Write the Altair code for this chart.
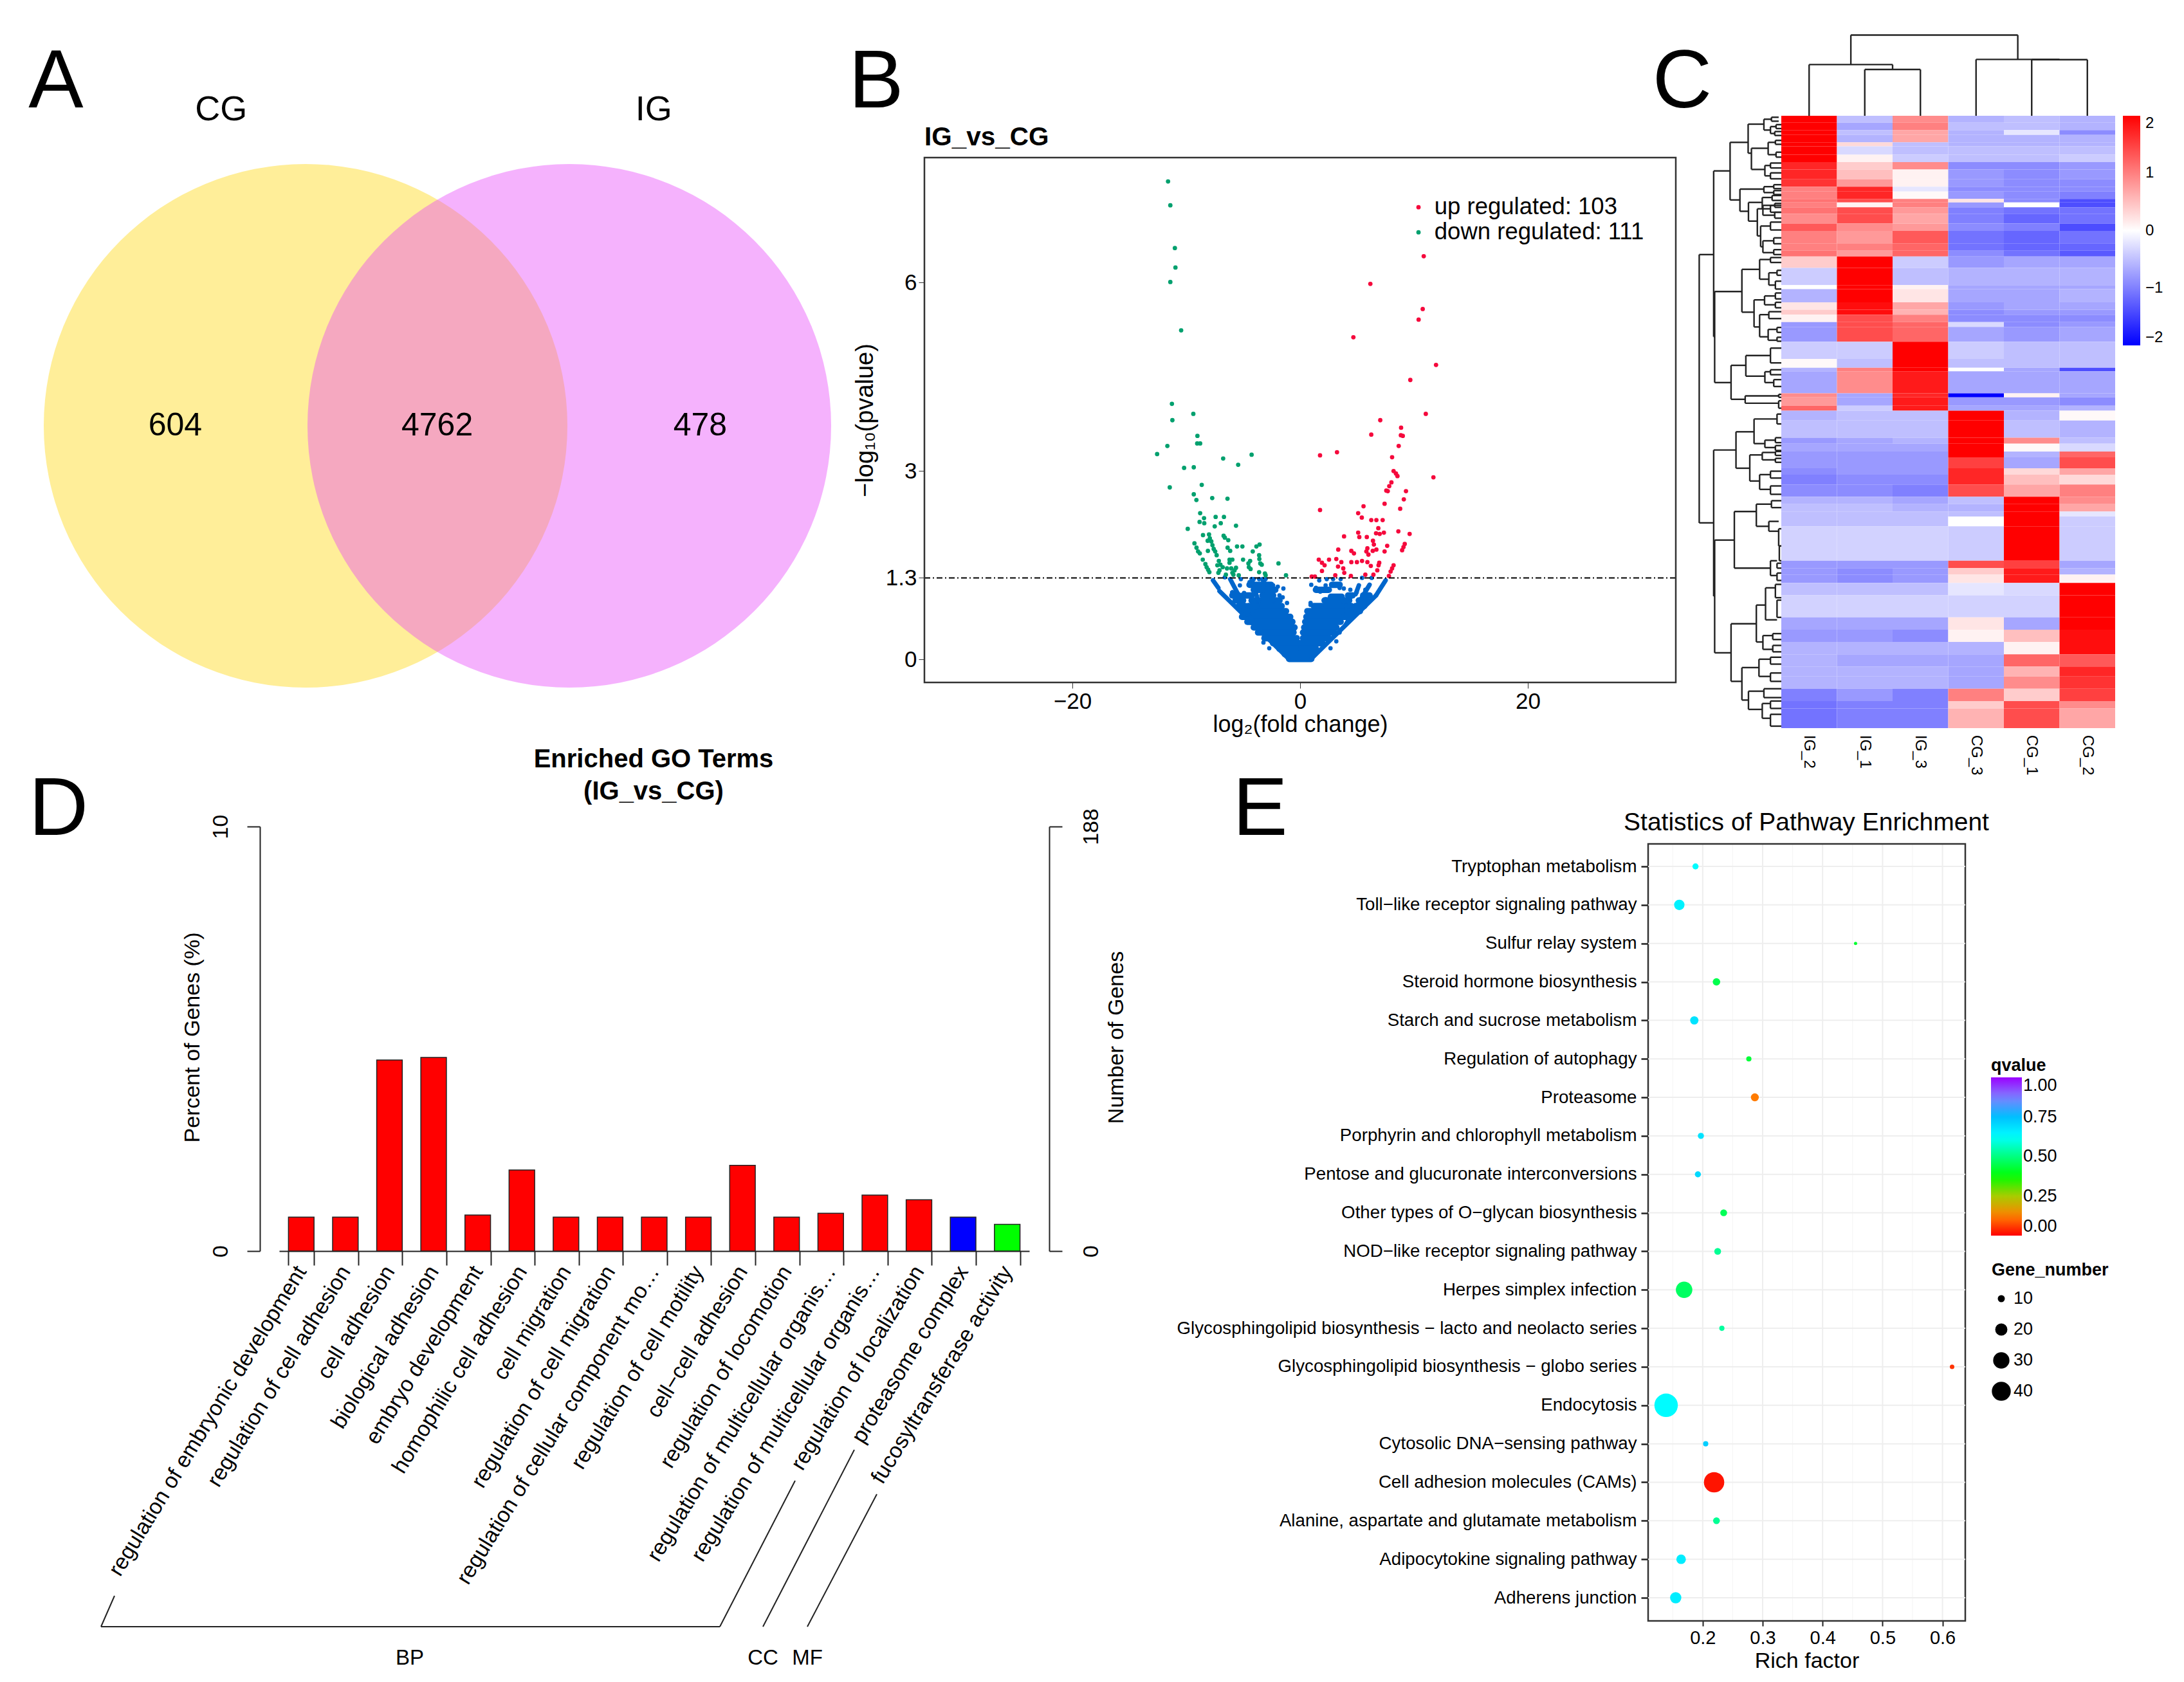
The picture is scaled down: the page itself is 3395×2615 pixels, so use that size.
import altair as alt
import pandas as pd

W, H = 3379, 2599
M = 8
FONT = "Liberation Sans"

# ---------- A: Venn ----------
venn_cx = [0, 1]
venn_colors = ["#FFEE99", "#E63EFA"]
venn_opacity = [1, 0.4]
venn_labels = ["604", "4762", "478"]
venn_label_x = [-0.494, 0.499, 1.496]
venn_label_y = [0, 0, 0]
venn_sets = ["CG", "IG"]
venn_set_x = [-0.32, 1.32]
venn_set_y = [1.195, 1.195]

# ---------- B: Volcano ----------
green_x = [-11.6,-11.4,-11.0,-10.95,-11.4,-10.45,-12.56,-11.66,-11.45,-11.26,-11.22,-9.38,-9.02,-9.04,-8.78,-10.19,-9.34,-8.64,-9.34,-9.11,-7.72,-6.38,-6.76,-4.26,-5.44,-8.78,-8.44,-8.83,-8.42,-7.42,-6.69,-6.97,-7.50,-5.63,-9.87,-8.53,-8.0,-7.93,-8.12,-7.8,-7.7,-7.59,-9.28,-9.10,-8.96,-8.81,-8.10,-7.46,-7.33,-6.72,-6.61,-6.31,-6.37,-6.14,-5.54,-5.07,-3.84,-3.56,-4.16,-3.60,-3.58,-3.5,-3.37,-1.90,-5.01,-4.39,-4.54,-4.50,-4.35,-8.55,-8.32,-8.21,-8.08,-7.97,-7.14,-7.27,-7.0,-6.80,-7.08,-7.18,-6.20,-5.95,-6.20,-6.42,-6.05,-5.63,-5.76,-5.95,-6.52,-5.86,-5.39,-3.60,-3.09,-3.03,-1.24]
green_y = [7.61,7.23,6.55,6.24,6.01,5.24,3.27,3.40,2.74,4.07,3.81,3.91,3.56,3.44,3.44,3.05,3.06,2.78,2.63,2.54,2.57,2.56,3.20,3.26,3.10,2.33,2.25,2.19,2.17,2.27,2.27,2.17,2.12,2.13,2.08,1.98,1.99,1.93,1.89,1.88,1.82,1.76,1.85,1.78,1.72,1.69,1.73,1.72,1.66,1.97,1.94,1.90,1.78,1.73,1.80,1.80,1.80,1.83,1.72,1.66,1.60,1.53,1.51,1.53,1.59,1.57,1.53,1.47,1.44,1.59,1.52,1.47,1.43,1.39,1.57,1.50,1.51,1.47,1.42,1.38,1.59,1.59,1.54,1.45,1.45,1.46,1.42,1.38,1.35,1.35,1.34,1.39,1.37,1.34,1.34]
red_x = [10.86,6.17,10.77,10.41,4.68,11.94,9.68,11.04,7.04,8.87,6.25,8.85,9.02,8.66,8.08,8.21,8.42,8.55,3.24,1.75,11.71,8.02,7.83,7.57,7.70,9.30,9.11,7.42,5.57,8.79,1.75,5.10,5.42,6.25,6.70,7.25,6.87,5.10,5.20,5.86,6.67,6.99,7.36,8.63,9.62,3.86,6.40,6.48,7.65,9.19,9.08,8.96,5.91,5.82,6.38,6.70,7.42,3.35,4.5,4.73,6.0,1.64,1.92,2.15,2.54,3.18,3.62,3.33,3.79,3.88,1.92,4.5,4.99,5.44,5.91,6.21,6.95,6.89,6.78,8.21,8.08,7.95,7.80,3.09,4.46,5.73,6.44,1.02,1.30]
red_y = [6.42,5.98,5.58,5.41,5.13,4.69,4.45,3.91,3.81,3.69,3.58,3.57,3.56,3.40,3.22,3.0,2.96,2.92,3.30,3.25,2.90,2.82,2.76,2.69,2.68,2.68,2.55,2.48,2.44,2.40,2.38,2.33,2.26,2.22,2.22,2.22,2.09,2.02,1.95,1.95,2.01,2.0,2.02,2.04,2.0,1.96,1.89,1.83,1.81,1.84,1.79,1.74,1.77,1.72,1.73,1.75,1.72,1.75,1.73,1.69,1.67,1.59,1.54,1.50,1.59,1.60,1.55,1.48,1.45,1.38,1.41,1.55,1.55,1.57,1.55,1.49,1.54,1.50,1.42,1.50,1.45,1.40,1.33,1.34,1.33,1.35,1.35,1.32,1.32]
blue_x = [-6.61,-5.2,-5.29,-4.44,-4.07,-3.88,-3.6,-3.03,-2.84,-2.37,-1.96,-1.47,-4.92,-4.63,-4.16,-3.97,-1.81,-1.53,-1.15,-0.49,-2.71,-3.22,-5.95,0.98,1.39,1.77,2.34,2.24,2.90,2.99,3.56,3.47,3.84,4.41,4.37,5.44,6.29,0.92,0.92,1.86,2.24,2.67,3.18,3.47,4.31,4.60,4.97,5.73,1.68]
blue_y = [1.31,1.28,1.18,1.23,1.28,1.19,1.28,1.28,1.19,1.18,1.16,1.13,1.06,1.02,0.92,0.92,1.02,0.99,0.90,0.49,0.18,0.27,1.07,1.19,1.14,1.08,1.28,1.18,1.28,1.19,1.28,1.14,1.13,1.11,0.97,1.30,1.30,0.90,0.87,0.85,0.96,0.18,0.29,0.43,0.90,0.80,1.07,1.11,1.26]
# solid mass of overlapping blue points, read row by row
mass_y = [1.02,0.94,0.85,0.77,0.68,0.60,0.51,0.43,0.34,0.26,0.17,0.085,0.01,
          1.00,0.94,0.85,0.77,0.68,0.60,0.51,0.43,0.34,0.26,0.17,
          1.19,1.19,1.11,1.11,1.02,1.02,0.94,0.94,0.85,0.85,0.77,0.68,0.60,
          1.11,1.19,1.02,1.02,0.94,0.94,0.85,0.85,0.77,0.77,0.68]
mass_x1 = [-3.31,-3.41,-3.88,-4.26,-4.54,-4.26,-4.07,-3.69,-3.13,-2.37,-1.81,-1.34,-0.96,
           2.71,2.15,1.21,0.64,0.55,0.45,0.36,0.26,0.26,0.17,0.08,
           -4.44,-3.13,-4.07,-3.13,-5.01,-5.95,-5.67,-4.26,-5.39,-4.54,-5.01,-5.10,-4.63,
           1.39,2.81,5.54,4.22,5.16,3.84,4.88,4.12,4.12,4.69,3.84]
mass_x2 = [-2.37,-1.81,-1.62,-1.24,-0.87,-0.68,-0.49,-0.58,-0.30,-0.02,0.08,1.21,0.98,
           3.65,3.84,4.12,4.12,3.84,3.56,3.18,2.99,2.52,1.96,1.39,
           -3.31,-2.56,-3.31,-2.18,-4.26,-5.39,-5.01,-3.69,-4.82,-3.88,-4.26,-4.54,-4.26,
           2.52,3.47,6.10,4.60,5.91,4.31,5.63,4.50,4.41,5.25,4.60]
# the thin arms of the V
arm_x1 = [-7.08,-7.65,-6.14,-3.31,-4.26,-5.95,7.51,6.67,6.10,5.16]
arm_y1 = [1.09,1.26,1.28,1.28,1.28,1.07,1.26,1.02,1.19,1.18]
arm_x2 = [-1.05,-7.18,-4.26,-2.37,-3.69,-4.6,6.67,1.02,4.03,4.88]
arm_y2 = [0.02,1.14,0.63,0.94,0.94,0.72,1.02,0.02,0.56,1.04]
thresh = [1.3]

# ---------- C: Heatmap ----------
samples = ["IG_2","IG_1","IG_3","CG_3","CG_1","CG_2"]
heat_edges = [196,210,225,235,250,258,275,290,305,325,340,350,365,372,382,395,415,430,455,470,482,505,540,548,575,590,600,615,625,655,690,708,715,760,768,785,795,815,850,862,878,890,912,925,945,970,985,1000,1010,1030,1100,1115,1128,1145,1170,1215,1240,1265,1290,1315,1335,1360,1385,1400,1440]
IG_2 = [2,2,2,2,2,2,2,1.7,1.7,1.6,1.0,1.0,1.1,1.0,1.1,0.9,1.3,1.0,1.0,1.1,0.4,-0.4,0.0,-0.6,0.2,0.4,0.1,-0.8,-0.8,-0.4,0.05,-0.6,-0.7,0.9,0.8,1.2,-0.6,-0.5,-0.8,-0.7,-0.8,-0.8,-0.9,-1.0,-0.9,-0.6,-0.5,-0.5,-0.5,-0.35,-0.8,-0.8,-0.8,-0.5,-0.35,-0.7,-0.8,-0.6,-0.6,-0.6,-0.6,-1.0,-1.1,-1.1]
IG_1 = [-0.5,-0.7,-0.5,-0.6,0.3,-0.3,0.1,0.4,0.5,0.8,1.7,1.7,1.4,0.1,1.4,1.4,0.9,0.8,1.0,0.8,2,2,2,2,1.9,1.9,1.4,1.4,1.4,-0.4,-0.5,1.0,0.9,-0.7,-0.7,-0.4,-0.5,-0.5,-0.7,-0.7,-0.8,-0.8,-0.8,-0.9,-0.9,-0.6,-0.5,-0.5,-0.5,-0.35,-0.8,-0.9,-0.9,-0.5,-0.35,-0.7,-0.8,-0.6,-0.7,-0.6,-0.6,-0.8,-1.0,-1.0]
IG_3 = [0.9,1.0,0.7,0.7,-0.5,-0.5,-0.4,0.9,0.1,0.1,-0.2,0.05,1.0,1.0,0.8,0.7,0.8,1.3,1.2,1.2,-0.4,-0.5,0.1,0.2,0.7,0.6,1.0,1.2,1.2,2,2,2,1.8,1.7,1.8,1.8,-0.5,-0.5,-0.6,-0.7,-0.8,-0.8,-0.8,-0.9,-1.0,-0.7,-0.6,-0.5,-0.5,-0.35,-0.8,-0.8,-0.8,-0.5,-0.35,-0.7,-0.9,-0.6,-0.7,-0.6,-0.6,-1.0,-1.0,-1.0]
CG_3 = [-0.6,-0.5,-0.6,-0.6,-0.6,-0.5,-0.5,-0.9,-0.8,-0.8,-0.9,-0.8,0.2,-0.8,-1.0,-1.0,-0.9,-1.1,-1.1,-0.9,-0.8,-0.6,-0.7,-0.7,-0.8,-0.9,-0.9,-0.3,-0.7,-0.4,-0.5,0.0,-0.7,-2,-0.8,-0.7,2,2,2,2,2,1.5,1.7,1.7,1.4,-0.5,-0.6,-0.5,0.0,-0.4,1.4,0.4,0.2,-0.2,-0.35,0.2,0.1,-0.6,-0.7,-0.7,-0.7,1.0,0.4,0.6]
CG_1 = [-0.5,-0.5,-0.2,-0.6,-0.6,-0.5,-0.5,-0.9,-0.9,-0.9,-0.9,-0.9,-0.9,0.0,-1.1,-1.2,-1.0,-1.2,-1.2,-1.1,-0.7,-0.6,-0.7,-0.7,-0.7,-0.8,-0.9,-0.9,-0.8,-0.5,-0.5,-0.7,-0.7,0.1,-0.8,-0.7,-0.6,-0.5,0.9,0.05,-0.6,-0.7,0.3,0.5,0.7,2,2,2,2,2,1.5,1.8,1.8,-0.3,-0.35,-0.7,0.5,0.1,1.2,0.6,0.9,0.4,1.4,1.4]
CG_2 = [-0.6,-0.6,-0.9,-0.6,-0.6,-0.5,-0.4,-0.8,-0.8,-0.9,-0.9,-1.0,-1.4,-1.4,-1.1,-1.1,-1.4,-1.1,-1.2,-1.3,-0.7,-0.6,-0.7,-0.6,-0.7,-0.8,-0.9,-0.8,-0.7,-0.5,-0.5,-1.4,-0.7,-0.7,-0.9,-0.6,0.05,-0.6,-0.5,-0.3,1.2,1.4,0.7,0.3,1.0,0.9,0.7,-0.2,-0.4,-0.4,-0.7,-0.6,0.1,2,2,2,1.9,1.9,1.3,1.7,1.6,1.5,0.9,0.7]
# row dendrogram merges: left position, top child row, bottom child row, top child position, bottom child position
row_merges = [
 (88,478,1023,132,132),(132,308,645,182,135),(182,250,367,237,212),(237,213,272,285,247),(285,203,225,308,305),
 (308,199,207,330,330),(305,218,232,322,318),(322,214,222,338,338),(318,228,236,338,338),(247,262,305,298,288),
 (298,250,275,320,322),(320,246,254,338,338),(322,270,280,338,338),(288,297,318,305,305),(305,292,302,338,338),
 (305,312,324,338,338),(212,345,390,285,238),(285,340,352,315,315),(315,336,344,338,338),(315,348,356,338,338),
 (238,372,410,280,265),(280,362,385,310,305),(310,358,368,338,338),(305,378,392,338,338),(265,385,440,282,275),
 (282,378,398,318,318),(318,374,382,338,338),(318,392,404,338,338),(275,420,462,305,282),(305,412,428,338,338),
 (282,450,474,315,315),(315,444,456,338,338),(315,468,478,338,338),
 (135,553,738,218,185),(218,508,595,272,255),(272,488,528,305,300),(305,484,494,338,338),(300,515,540,325,320),
 (325,510,520,338,338),(320,532,548,338,338),(255,570,625,287,272),(287,562,580,320,320),(320,556,568,338,338),
 (320,575,586,338,338),(272,600,645,300,298),(300,594,608,338,338),(298,630,652,325,325),(325,626,636,338,338),
 (325,646,654,338,338),(185,703,772,230,228),(230,683,725,305,288),(305,668,698,338,338),(288,716,738,305,315),
 (305,712,722,338,338),(315,732,746,338,338),(228,765,780,330,330),(330,762,768,338,338),(330,775,790,338,338),
 (132,875,1172,200,135),(200,838,912,255,242),(255,812,862,325,288),(325,802,822,338,338),(288,855,870,320,320),
 (320,850,860,338,338),(320,866,876,338,338),(242,885,938,280,272),(280,880,895,320,320),(320,878,886,338,338),
 (320,892,900,338,338),(272,925,955,305,305),(305,918,932,338,338),(305,948,965,338,338),
 (135,1058,1287,195,185),(195,1000,1115,262,305),(262,985,1030,308,300),(308,978,992,338,338),(300,1020,1040,330,332),
 (330,1035,1070,338,338),(332,1070,1100,338,338),(305,1100,1130,325,325),(325,1105,1115,338,338),(325,1125,1140,338,338),
 (185,1228,1345,262,218),(262,1190,1265,290,282),(290,1155,1220,320,325),(320,1148,1175,338,338),(325,1180,1215,338,338),
 (282,1252,1280,312,312),(312,1248,1260,338,338),(312,1272,1285,338,338),(218,1317,1383,270,238),(270,1300,1335,305,305),
 (305,1296,1310,338,338),(305,1328,1345,338,338),(238,1365,1402,285,280),(285,1360,1378,338,338),(280,1390,1420,305,305),
 (305,1385,1400,338,338),(305,1412,1436,338,338),
]
# column dendrogram merges: left col, right col, height, left base, right base
col_merges = [(1.5,2.5,94,0,0),(0.5,2.0,104,0,94),(4.5,5.5,114,0,0),(3.5,5.0,114.5,0,114),(1.25,4.25,164,104,114.5)]

# ---------- D: GO bars ----------
go_terms = ["regulation of embryonic development","regulation of cell adhesion","cell adhesion","biological adhesion",
            "embryo development","homophilic cell adhesion","cell migration","regulation of cell migration",
            "regulation of cellular component mo…","regulation of cell motility","cell−cell adhesion",
            "regulation of locomotion","regulation of multicellular organis…","regulation of multicellular organis… ",
            "regulation of localization","proteasome complex","fucosyltransferase activity"]
go_percent = [0.80,0.80,4.50,4.56,0.85,1.91,0.80,0.80,0.80,0.80,2.02,0.80,0.89,1.32,1.21,0.80,0.63]
go_colors = ["#FF0000"]*15 + ["#0000FF","#00FF00"]
go_bracket_x1 = [178,157,157,1119,1186,1255]
go_bracket_y1 = [2481,2529,2529,2529,2529,2529]
go_bracket_x2 = [157,157,1119,1236,1328,1363]
go_bracket_y2 = [2529,2529,2529,2302,2254,2323]

# ---------- E: Pathways ----------
pathways = ["Tryptophan metabolism","Toll−like receptor signaling pathway","Sulfur relay system","Steroid hormone biosynthesis",
            "Starch and sucrose metabolism","Regulation of autophagy","Proteasome","Porphyrin and chlorophyll metabolism",
            "Pentose and glucuronate interconversions","Other types of O−glycan biosynthesis","NOD−like receptor signaling pathway",
            "Herpes simplex infection","Glycosphingolipid biosynthesis − lacto and neolacto series","Glycosphingolipid biosynthesis − globo series",
            "Endocytosis","Cytosolic DNA−sensing pathway","Cell adhesion molecules (CAMs)","Alanine, aspartate and glutamate metabolism",
            "Adipocytokine signaling pathway","Adherens junction"]
rich = [.188,.161,.455,.223,.186,.277,.287,.197,.192,.235,.225,.169,.232,.616,.139,.205,.219,.223,.164,.155]
genes = [10,18,2,12,13.5,7,13,10,10,11,11,34,7,5,55,7,46,11,16,20]
qvals = [.63,.65,.42,.45,.68,.43,.12,.68,.70,.46,.52,.47,.53,.05,.63,.72,.02,.52,.66,.66]
major_x = [.2,.3,.4,.5,.6]
minor_x = [.15,.25,.35,.45,.55]
q_stops = [0,.125,.25,.375,.5,.625,.75,.875,1]
q_colors = ["#FF0000","#FF8000","#A8CC00","#00FF00","#00FF80","#00FFFF","#00BFFF","#7F7FFF","#9B00FF"]

# ---------- Scales ----------
px_x = alt.Scale(domain=[0, 3395], range=[-M, 3395 - M])
px_y = alt.Scale(domain=[0, 2615], range=[-M, 2615 - M])


def px_rule(x1, y1, x2, y2, width=2.0, color="#222222"):
    d = pd.DataFrame({"a": x1, "b": y1, "c": x2, "d": y2})
    return alt.Chart(d).mark_rule(strokeWidth=width, color=color).encode(
        x=alt.X("a:Q", scale=px_x, axis=None), y=alt.Y("b:Q", scale=px_y, axis=None),
        x2="c:Q", y2="d:Q")


def txt(t, x, y, size, weight="normal", angle=0, align="center", color="black"):
    d = pd.DataFrame({"t": [t], "x": [x], "y": [y]})
    return alt.Chart(d).mark_text(fontSize=size, fontWeight=weight, angle=angle, align=align,
                                  baseline="middle", color=color, font=FONT).encode(
        x=alt.X("x:Q", scale=px_x, axis=None), y=alt.Y("y:Q", scale=px_y, axis=None), text="t:N")


def axis_holder(xval, xtype, xscale, xaxis, yval, ytype, yscale, yaxis):
    d = pd.DataFrame({"x": [xval], "y": [yval]})
    return alt.Chart(d).mark_point(opacity=0, size=1).encode(
        x=alt.X("x", type=xtype, scale=xscale, axis=xaxis),
        y=alt.Y("y", type=ytype, scale=yscale, axis=yaxis))


# ---------- A ----------
vx = alt.Scale(domain=[0, 1], range=[475 - M, 885 - M])
vy = alt.Scale(domain=[0, 1], range=[662 - M, 251 - M])
venn_layers = []
for cx, col, op in zip(venn_cx, venn_colors, venn_opacity):
    venn_layers.append(alt.Chart(pd.DataFrame({"x": [cx], "y": [0]})).mark_circle(
        size=662600, color=col, opacity=op).encode(
        x=alt.X("x:Q", scale=vx, axis=None), y=alt.Y("y:Q", scale=vy, axis=None)))
venn_text = alt.Chart(pd.DataFrame({"t": venn_labels, "x": venn_label_x, "y": venn_label_y})).mark_text(
    fontSize=50, color="black", font=FONT, baseline="middle").encode(
    x=alt.X("x:Q", scale=vx, axis=None), y=alt.Y("y:Q", scale=vy, axis=None), text="t:N")
venn_set_text = alt.Chart(pd.DataFrame({"t": venn_sets, "x": venn_set_x, "y": venn_set_y})).mark_text(
    fontSize=54, color="black", font=FONT, baseline="middle").encode(
    x=alt.X("x:Q", scale=vx, axis=None), y=alt.Y("y:Q", scale=vy, axis=None), text="t:N")
panel_a = alt.layer(*venn_layers, venn_text, venn_set_text)

# ---------- B ----------
bx = alt.Scale(domain=[-33, 33], range=[1437 - M, 2605 - M])
by = alt.Scale(domain=[-0.365, 7.99], range=[1061 - M, 245 - M])
b_xaxis = alt.Axis(orient="bottom", offset=1061 - M - H, values=[-20, 0, 20], grid=False, domain=False,
                   title="log₂(fold change)", titleFontSize=36, titleFontWeight="normal", labelFontSize=35,
                   tickColor="#333", tickSize=9, labelColor="black", titleColor="black", titlePadding=1, labelPadding=3)
b_yaxis = alt.Axis(orient="left", offset=-(1437 - M), values=[0, 1.3, 3, 6], format=".1~f", grid=False, domain=False,
                   title="−log₁₀(pvalue)", titleFontSize=38, titleFontWeight="normal", labelFontSize=35,
                   tickColor="#333", tickSize=9, labelColor="black", titleColor="black", titlePadding=12, labelPadding=3)
mass = alt.Chart(pd.DataFrame({"x": mass_x1, "x2": mass_x2, "y": mass_y})).mark_rule(
    color="#0066CC", strokeWidth=10, strokeCap="round").encode(
    x=alt.X("x:Q", scale=bx, axis=None), x2="x2:Q", y=alt.Y("y:Q", scale=by, axis=None), y2="y:Q")
arms = alt.Chart(pd.DataFrame({"x": arm_x1, "x2": arm_x2, "y": arm_y1, "y2": arm_y2})).mark_rule(
    color="#0066CC", strokeWidth=7, strokeCap="round").encode(
    x=alt.X("x:Q", scale=bx, axis=None), x2="x2:Q", y=alt.Y("y:Q", scale=by, axis=None), y2="y2:Q")


def dots(xs, ys, color):
    return alt.Chart(pd.DataFrame({"x": xs, "y": ys})).mark_circle(size=46, color=color, opacity=1).encode(
        x=alt.X("x:Q", scale=bx, axis=None), y=alt.Y("y:Q", scale=by, axis=None))


thr = alt.Chart(pd.DataFrame({"y": thresh})).mark_rule(color="black", strokeWidth=2, strokeDash=[9, 4, 2, 4]).encode(
    y=alt.Y("y:Q", scale=by, axis=None), x=alt.datum(-33, scale=bx, axis=None), x2=alt.datum(33))
frame_b = alt.Chart(pd.DataFrame({"x": [-33], "x2": [33], "y": [-0.365], "y2": [7.99]})).mark_rect(
    fill=None, stroke="#333333", strokeWidth=2.5).encode(
    x=alt.X("x:Q", scale=bx, axis=None), x2="x2:Q", y=alt.Y("y:Q", scale=by, axis=None), y2="y2:Q")
legend_pts = alt.Chart(pd.DataFrame({"x": [10.4, 10.4], "y": [7.2, 6.8], "c": ["#F5093C", "#00A06E"]})).mark_circle(
    size=46, opacity=1).encode(x=alt.X("x:Q", scale=bx, axis=None), y=alt.Y("y:Q", scale=by, axis=None),
                               color=alt.Color("c:N", scale=None))
legend_txt = alt.Chart(pd.DataFrame({"x": [11.8, 11.8], "y": [7.2, 6.8],
                                     "t": ["up regulated: 103", "down regulated: 111"]})).mark_text(
    fontSize=36.5, align="left", baseline="middle", font=FONT, color="black").encode(
    x=alt.X("x:Q", scale=bx, axis=None), y=alt.Y("y:Q", scale=by, axis=None), text="t:N")
panel_b = alt.layer(mass, arms, dots(blue_x, blue_y, "#0066CC"), dots(green_x, green_y, "#00A06E"),
                    dots(red_x, red_y, "#F5093C"), thr, frame_b, legend_pts, legend_txt)
axes_b = axis_holder(0, "quantitative", bx, b_xaxis, 0, "quantitative", by, b_yaxis)

# ---------- C ----------
hx = alt.Scale(domain=[0, 6], range=[2769 - M, 3288 - M])
hy = alt.Scale(domain=[0, 1244], range=[180 - M, 1132 - M])
heat_rows = []
for name, vals in zip(samples, [IG_2, IG_1, IG_3, CG_3, CG_1, CG_2]):
    col = samples.index(name)
    for i, v in enumerate(vals):
        heat_rows.append({"x": col, "x2": col + 1, "y": heat_edges[i] - 196, "y2": heat_edges[i + 1] - 196, "v": v})
heat = alt.Chart(pd.DataFrame(heat_rows)).mark_rect(strokeWidth=0).encode(
    x=alt.X("x:Q", scale=hx, axis=None), x2="x2:Q", y=alt.Y("y:Q", scale=hy, axis=None), y2="y2:Q",
    color=alt.Color("v:Q", scale=alt.Scale(domain=[-2, 0, 2], range=["#0000FF", "#FFFFFF", "#FF0000"], interpolate="rgb"),
                    legend=alt.Legend(orient="none", legendX=3300 - M, legendY=180 - M, title=None, gradientLength=357,
                                      gradientThickness=27, values=[2, 1, 0, -1, -2], format="d", labelFontSize=24,
                                      labelOffset=8, labelOverlap=False, labelColor="black")))
segs = []
for zx, y1, y2, c1, c2 in row_merges:
    X = (zx - 338) / 169.5
    segs.append((X, y1 - 196, X, y2 - 196))
    segs.append((X, y1 - 196, (c1 - 338) / 169.5, y1 - 196))
    segs.append((X, y2 - 196, (c2 - 338) / 169.5, y2 - 196))
for a, b, h, ba, bb in col_merges:
    segs.append((a, -h, b, -h))
    segs.append((a, -h, a, -ba))
    segs.append((b, -h, b, -bb))
seg_df = pd.DataFrame(segs, columns=["x", "y", "x2", "y2"])
dendro = alt.Chart(seg_df).mark_rule(color="#222222", strokeWidth=2.4).encode(
    x=alt.X("x:Q", scale=hx, axis=None), x2="x2:Q", y=alt.Y("y:Q", scale=hy, axis=None), y2="y2:Q")
col_lab = alt.Chart(pd.DataFrame({"t": samples, "x": [i + .5 for i in range(6)], "y": [1258] * 6})).mark_text(
    fontSize=24, angle=90, align="left", baseline="middle", font=FONT, color="black").encode(
    x=alt.X("x:Q", scale=hx, axis=None), y=alt.Y("y:Q", scale=hy, axis=None), text="t:N")
panel_c = alt.layer(heat, dendro, col_lab)

# ---------- D ----------
dx = alt.Scale(domain=go_terms, range=[434 - M, 1600 - M], paddingInner=0.42, paddingOuter=0.21)
dy = alt.Scale(domain=[0, 10], range=[1945 - M, 1285 - M])
dy2 = alt.Scale(domain=[0, 188], range=[1945 - M, 1285 - M])
d_xaxis = alt.Axis(orient="bottom", offset=1945 - M - H, title=None, grid=False, tickBand="extent", tickSize=22,
                   tickColor="#222", domainColor="#222", domainWidth=2, tickWidth=2, labelAngle=301.4, labelAlign="right",
                   labelBaseline="middle", labelFontSize=34, labelLimit=2000, labelOverlap=False, labelColor="black",
                   labelPadding=4, labelBound=False)
d_yaxis = alt.Axis(orient="left", offset=-(404 - M), title=None, grid=False, values=[0, 10], tickSize=20, tickColor="#222",
                   domainColor="#222", domainWidth=2, tickWidth=2, labelAngle=270, labelFontSize=34, labelColor="black",
                   labelPadding=24, labelFlush=False)
d_y2axis = alt.Axis(orient="right", offset=1631 - M - W, title=None, grid=False, values=[0, 188], tickSize=20, tickColor="#222",
                    domainColor="#222", domainWidth=2, tickWidth=2, labelAngle=270, labelFontSize=34, labelColor="black",
                    labelPadding=28)
bars = alt.Chart(pd.DataFrame({"t": go_terms, "v": go_percent, "c": go_colors})).mark_bar(
    stroke="#222222", strokeWidth=1.5).encode(
    x=alt.X("t:N", scale=dx, sort=go_terms, axis=d_xaxis),
    y=alt.Y("v:Q", scale=dy, axis=d_yaxis),
    color=alt.Color("c:N", scale=None))
right_axis = alt.Chart(pd.DataFrame({"v": [0, 188]})).mark_rule(opacity=0).encode(
    y=alt.Y("v:Q", scale=dy2, axis=d_y2axis), x=alt.value(0))

# ---------- E ----------
ex = alt.Scale(domain=[.109, .638], range=[2562 - M, 3055 - M])
ey = alt.Scale(type="point", domain=pathways, range=[1347 - M, 2484 - M], padding=0)
eyf = alt.Scale(domain=[0, 1], range=[2520 - M, 1312 - M])
e_xaxis = alt.Axis(orient="bottom", offset=2520 - M - H, values=major_x, format=".1f", grid=False,
                   domain=False, tickSize=8, tickColor="#222", tickWidth=2, labelFontSize=29,
                   labelColor="black", title="Rich factor", titleFontSize=34,
                   titleFontWeight="normal", titleColor="black", titlePadding=4, labelPadding=4)
e_yaxis = alt.Axis(orient="left", offset=-(2562 - M), title=None, grid=False, domain=False, tickSize=11, tickColor="#222",
                   tickWidth=2.5, labelFontSize=27.7, labelColor="black", labelLimit=2000, labelOverlap=False, labelPadding=7)
gmaj = alt.Chart(pd.DataFrame({"x": major_x})).mark_rule(color="#EEEEEE", strokeWidth=2).encode(
    x=alt.X("x:Q", scale=ex, axis=None), y=alt.datum(0, scale=eyf, axis=None), y2=alt.datum(1))
gmin = alt.Chart(pd.DataFrame({"x": minor_x})).mark_rule(color="#F4F4F4", strokeWidth=1).encode(
    x=alt.X("x:Q", scale=ex, axis=None), y=alt.datum(0, scale=eyf, axis=None), y2=alt.datum(1))
frame_e = alt.Chart(pd.DataFrame({"x": [.109], "x2": [.638], "y": [0], "y2": [1]})).mark_rect(
    fill=None, stroke="#333333", strokeWidth=2.5).encode(
    x=alt.X("x:Q", scale=ex, axis=None), x2="x2:Q", y=alt.Y("y:Q", scale=eyf, axis=None), y2="y2:Q")
panel_e_grid = alt.layer(gmaj, gmin, frame_e)
hgrid = alt.Chart(pd.DataFrame({"p": pathways})).mark_rule(color="#EEEEEE", strokeWidth=2).encode(
    y=alt.Y("p:N", scale=ey, axis=None), x=alt.datum(.109, scale=ex, axis=None), x2=alt.datum(.638))
points = alt.Chart(pd.DataFrame({"p": pathways, "rich": rich, "genes": genes, "q": qvals})).mark_circle(opacity=1).encode(
    y=alt.Y("p:N", scale=ey, axis=None), x=alt.X("rich:Q", scale=ex, axis=None),
    color=alt.Color("q:Q", scale=alt.Scale(domain=q_stops, range=q_colors, interpolate="rgb"),
        legend=alt.Legend(orient="none", legendX=3095 - M, legendY=1644 - M, title="qvalue", titleFontSize=27,
                          titleFontWeight="bold", titleColor="black", gradientLength=246, gradientThickness=48,
                          values=[0, .25, .5, .75, 1], format=".2f", labelFontSize=27, labelColor="black",
                          titlePadding=4, labelOverlap=False)),
    size=alt.Size("genes:Q", scale=alt.Scale(domain=[2, 10, 20, 30, 40, 55], range=[25, 90, 305, 570, 780, 1330]),
                  legend=alt.Legend(orient="none", legendX=3096 - M, legendY=1962 - M, title="Gene_number", titleFontSize=27,
                                    titleLimit=600, titleFontWeight="bold", titleColor="black", values=[10, 20, 30, 40],
                                    labelFontSize=27, labelColor="black", symbolFillColor="black", symbolStrokeColor="black",
                                    symbolOpacity=1, clipHeight=48, rowPadding=0, titlePadding=6, symbolType="circle")))
panel_e = alt.layer(hgrid, points)
axes_e = axis_holder(.2, "quantitative", ex, e_xaxis, pathways[0], "nominal", ey, e_yaxis)

# ---------- Annotations ----------
annot = alt.layer(
    txt("A", 87, 129, 128), txt("B", 1362, 129, 128), txt("C", 2615, 129, 128),
    txt("D", 91, 1260, 128), txt("E", 1959, 1260, 128),
    txt("IG_vs_CG", 1437, 214, 40.5, "bold", align="left"),
    txt("Enriched GO Terms", 1016, 1181, 40, "bold"), txt("(IG_vs_CG)", 1016, 1231, 40, "bold"),
    txt("Percent of Genes (%)", 300, 1613, 34, angle=270), txt("Number of Genes", 1736, 1613, 34, angle=270),
    txt("BP", 637, 2578, 33), txt("CC", 1186, 2578, 33), txt("MF", 1255, 2578, 33),
    txt("Statistics of Pathway Enrichment", 2808, 1279, 39),
    px_rule(go_bracket_x1, go_bracket_y1, go_bracket_x2, go_bracket_y2),
)

chart = alt.layer(panel_a, panel_b, axes_b, panel_c, bars, right_axis, panel_e_grid, panel_e, axes_e, annot).resolve_scale(
    x="independent", y="independent", color="independent", size="independent"
).resolve_axis(x="independent", y="independent").resolve_legend(color="independent", size="independent").properties(
    width=W, height=H, padding=0, autosize=alt.AutoSizeParams(type="none"), background="white"
).configure(font=FONT).configure_view(stroke=None)

chart.save("out.html", embed_options={"renderer": "svg", "actions": False})
